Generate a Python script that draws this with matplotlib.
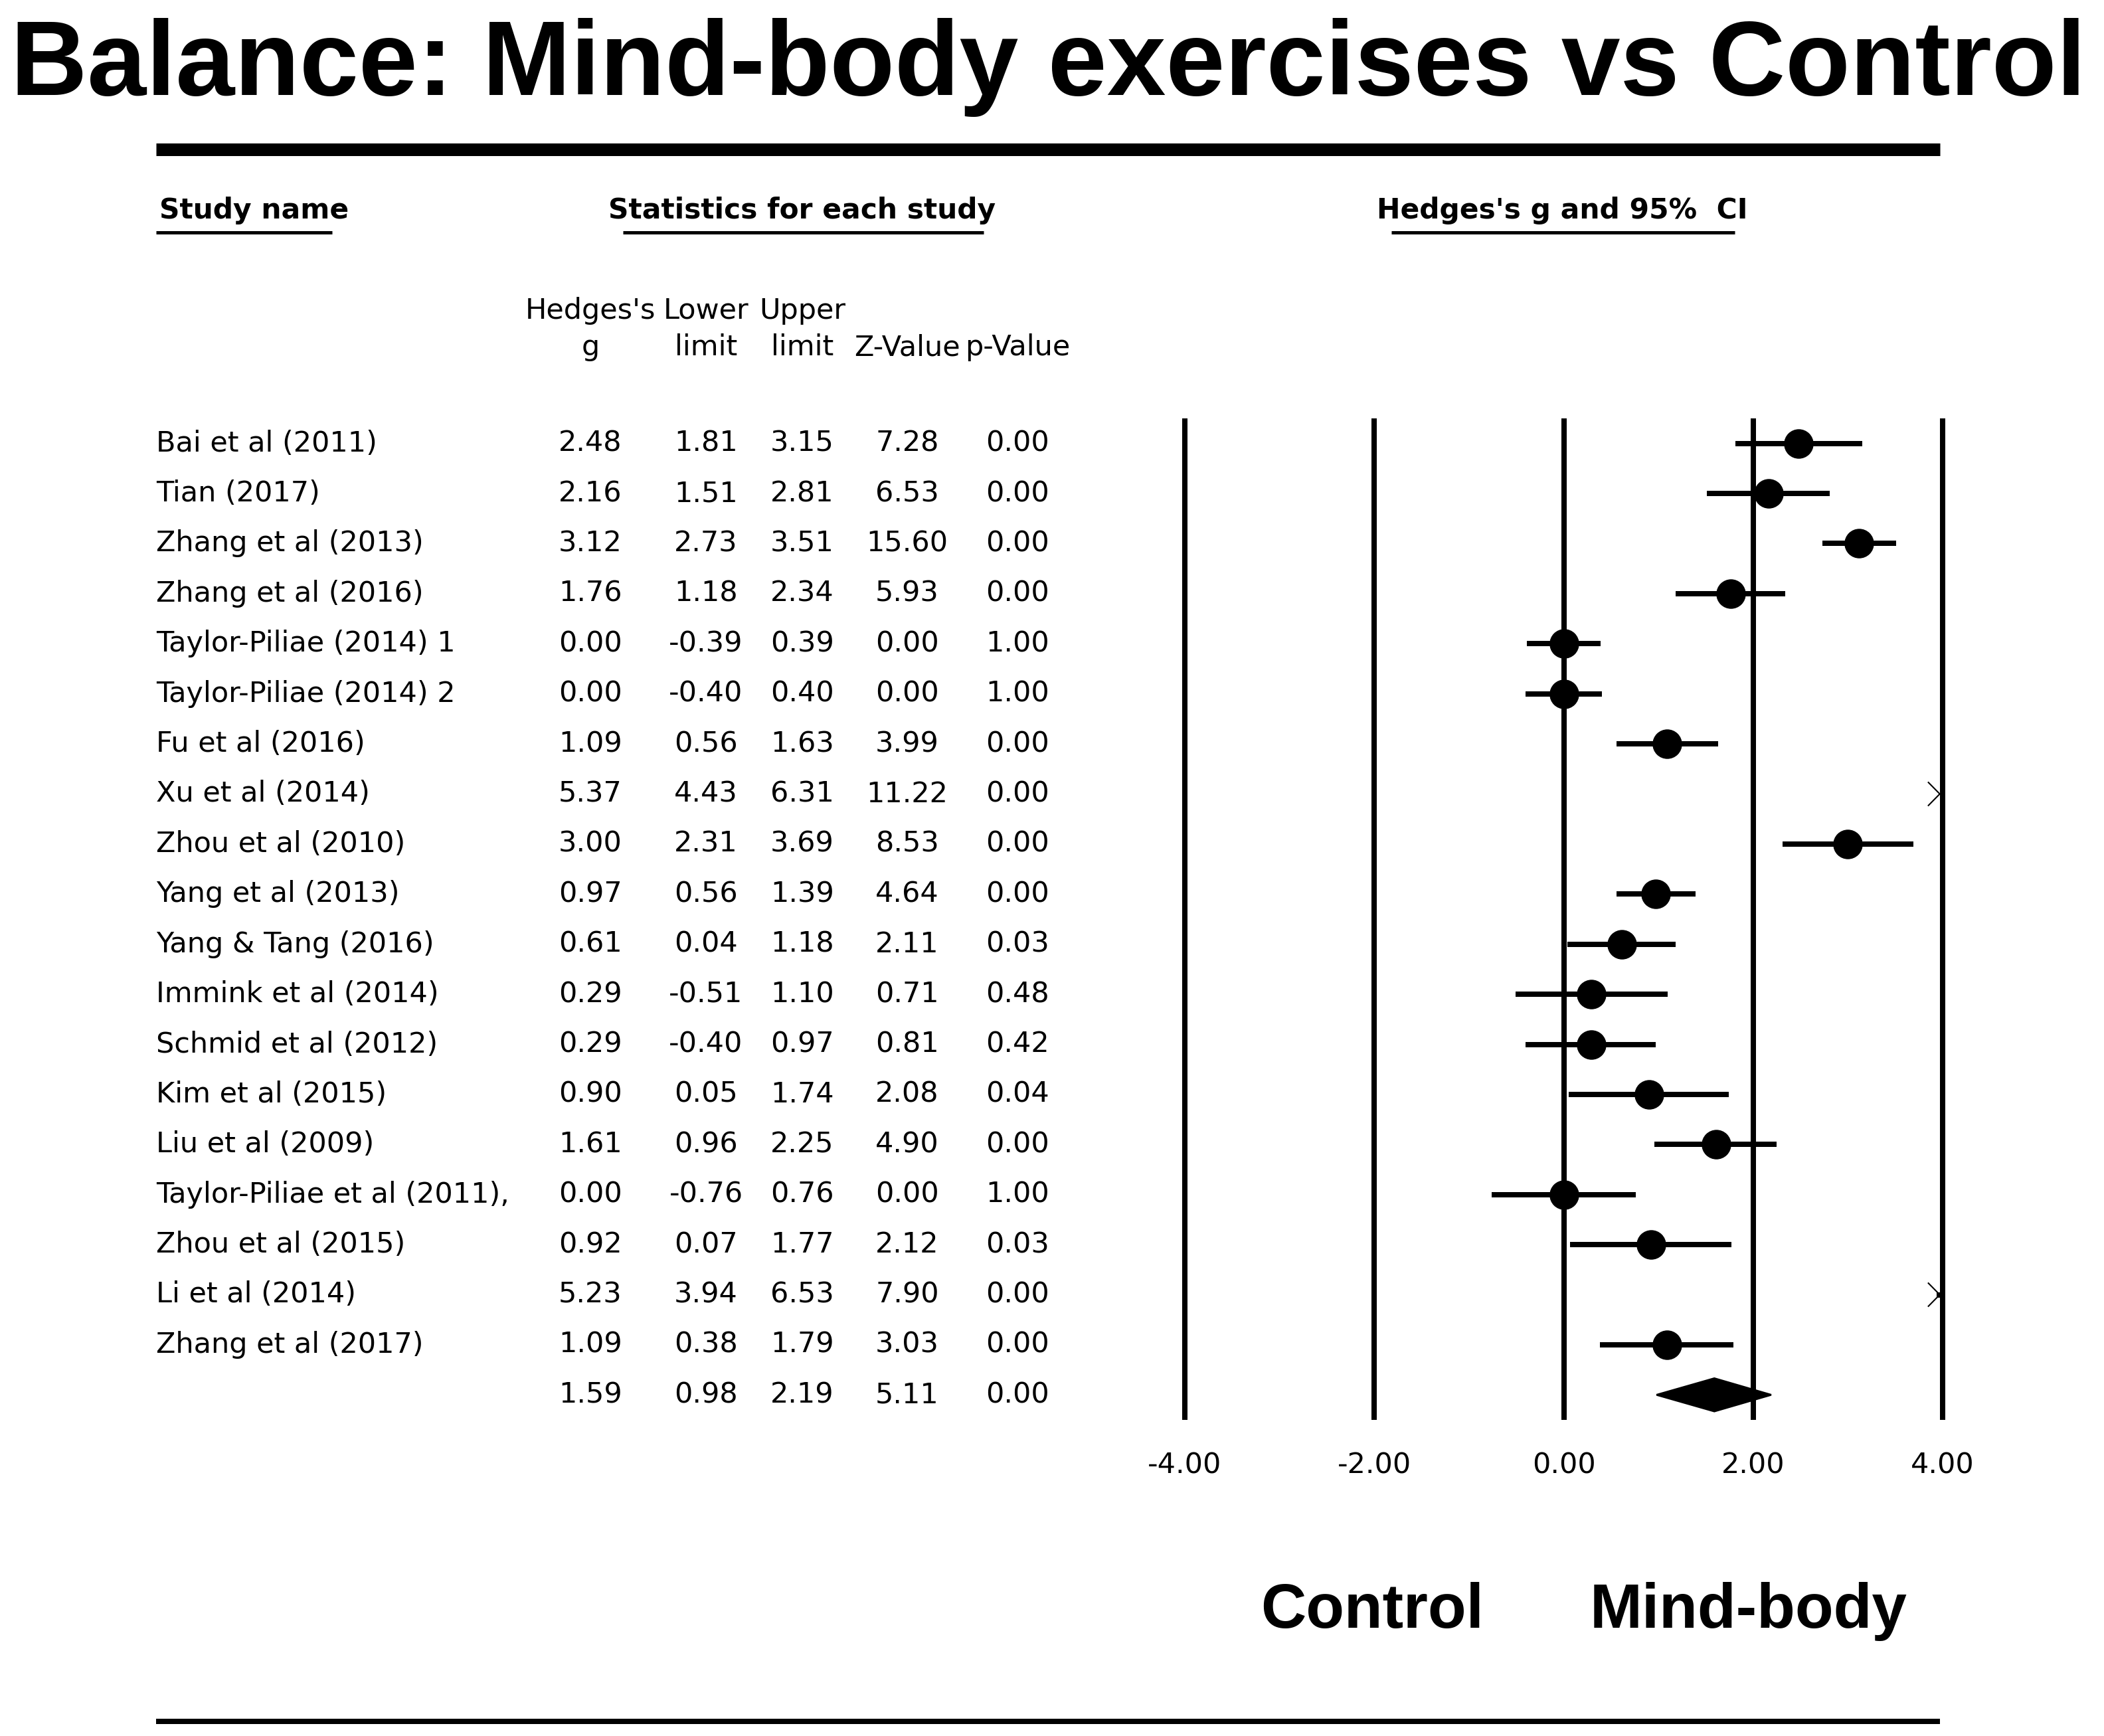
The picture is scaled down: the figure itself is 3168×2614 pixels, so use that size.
import numpy as np
import matplotlib
matplotlib.use("Agg")
import matplotlib.pyplot as plt
from matplotlib.lines import Line2D
from matplotlib.patches import Polygon
from matplotlib.transforms import blended_transform_factory

# Datos del forest plot
estudios = ["Bai et al (2011)", "Tian (2017)", "Zhang et al (2013)", "Zhang et al (2016)",
            "Taylor-Piliae (2014) 1", "Taylor-Piliae (2014) 2", "Fu et al (2016)",
            "Xu et al (2014)", "Zhou et al (2010)", "Yang et al (2013)", "Yang & Tang (2016)",
            "Immink et al (2014)", "Schmid et al (2012)", "Kim et al (2015)", "Liu et al (2009)",
            "Taylor-Piliae et al (2011),", "Zhou et al (2015)", "Li et al (2014)",
            "Zhang et al (2017)"]
hedges_g = [2.48, 2.16, 3.12, 1.76, 0.00, 0.00, 1.09, 5.37, 3.00, 0.97, 0.61, 0.29, 0.29,
            0.90, 1.61, 0.00, 0.92, 5.23, 1.09]
limite_inf = [1.81, 1.51, 2.73, 1.18, -0.39, -0.40, 0.56, 4.43, 2.31, 0.56, 0.04, -0.51, -0.40,
              0.05, 0.96, -0.76, 0.07, 3.94, 0.38]
limite_sup = [3.15, 2.81, 3.51, 2.34, 0.39, 0.40, 1.63, 6.31, 3.69, 1.39, 1.18, 1.10, 0.97,
              1.74, 2.25, 0.76, 1.77, 6.53, 1.79]
z_valor = [7.28, 6.53, 15.60, 5.93, 0.00, 0.00, 3.99, 11.22, 8.53, 4.64, 2.11, 0.71, 0.81,
           2.08, 4.90, 0.00, 2.12, 7.90, 3.03]
p_valor = [0.00, 0.00, 0.00, 0.00, 1.00, 1.00, 0.00, 0.00, 0.00, 0.00, 0.03, 0.48, 0.42,
           0.04, 0.00, 1.00, 0.03, 0.00, 0.00]
# Efecto combinado
resumen = [1.59, 0.98, 2.19, 5.11, 0.00]

ticks_x = [-4, -2, 0, 2, 4]

W, H = 3168, 2614
fig = plt.figure(figsize=(W / 100, H / 100), dpi=100)
fig.patch.set_facecolor("white")

def fx(px):
    return px / W

def fy(py):
    return 1 - py / H

def lw(px):
    return px * 0.72

# Ejes del forest plot: -4 en x=1784 px, 4 en x=2925 px
xmin, xmax = -4, 4
ppu = (2925 - 1784) / (xmax - xmin)
margen = 0.3
ax_x0 = 1784 - margen * ppu
ax_w = (xmax - xmin + 2 * margen) * ppu
n_filas = len(estudios) + 1
ax_top, ax_bot = 630, 2138
ax = fig.add_axes([fx(ax_x0), fy(ax_bot), ax_w / W, (ax_bot - ax_top) / H])
ax.set_xlim(xmin - margen, xmax + margen)
ax.set_ylim(n_filas - 0.5, -0.5)
for s in ax.spines.values():
    s.set_visible(False)
ax.set_yticks([])
ax.set_xticks(ticks_x)
ax.set_xticklabels([f"{v:.2f}" for v in ticks_x])
ax.tick_params(axis="x", length=0, pad=34, labelsize=31)

for v in ticks_x:
    ax.axvline(v, color="black", lw=lw(8), zorder=1)

filas = np.arange(len(estudios))
g = np.array(hedges_g)
lo = np.clip(limite_inf, xmin, xmax)
hi = np.clip(limite_sup, xmin, xmax)
ax.hlines(filas, lo, hi, color="black", lw=lw(8), zorder=2)
dentro = g <= xmax
ax.plot(g[dentro], filas[dentro], "o", ms=31, color="black", zorder=3)

# Flechas para estudios fuera del rango
for f in filas[~dentro]:
    ax.plot([xmax - 0.15, xmax - 0.03, xmax - 0.15], [f - 0.23, f, f + 0.23],
            color="black", lw=1.5, zorder=3)

# Diamante del efecto combinado
fr = len(estudios)
diamante = Polygon([[resumen[1], fr], [resumen[0], fr - 0.33],
                    [resumen[2], fr], [resumen[0], fr + 0.33]],
                   closed=True, facecolor="black", edgecolor="black", lw=2, zorder=3)
ax.add_patch(diamante)

# Tabla de estadísticos
trans = blended_transform_factory(fig.transFigure, ax.transData)
col_x = [889, 1063, 1208, 1366, 1532]
fs = 31
for i, nombre in enumerate(estudios):
    ax.text(fx(235), i, nombre, transform=trans, ha="left", va="center",
            fontsize=fs, clip_on=False)
    valores = [hedges_g[i], limite_inf[i], limite_sup[i], z_valor[i], p_valor[i]]
    for cx, v in zip(col_x, valores):
        ax.text(fx(cx), i, f"{v:.2f}", transform=trans, ha="center", va="center",
                fontsize=fs, clip_on=False)
for cx, v in zip(col_x, resumen):
    ax.text(fx(cx), fr, f"{v:.2f}", transform=trans, ha="center", va="center",
            fontsize=fs, clip_on=False)

# Encabezados de columnas
enc1 = ["Hedges's", "Lower", "Upper", "", ""]
enc2 = ["g", "limit", "limit", "Z-Value", "p-Value"]
for cx, a, b in zip(col_x, enc1, enc2):
    fig.text(fx(cx), fy(468), a, ha="center", va="center", fontsize=fs)
    fig.text(fx(cx), fy(523), b, ha="center", va="center", fontsize=fs)

# Títulos de sección con subrayado
fig.text(fx(240), fy(317), "Study name", ha="left", va="center", fontsize=30.5,
         fontweight="bold")
fig.text(fx(1208), fy(317), "Statistics for each study", ha="center", va="center",
         fontsize=30.5, fontweight="bold")
fig.text(fx(2352), fy(317), "Hedges's g and 95%  CI", ha="center", va="center",
         fontsize=30.5, fontweight="bold")
for x0, x1 in [(235, 500), (938, 1481), (2095, 2612)]:
    fig.add_artist(Line2D([fx(x0), fx(x1)], [fy(350), fy(350)], lw=lw(5),
                          color="black", transform=fig.transFigure,
                          solid_capstyle="butt"))

# Título principal y líneas horizontales
fig.text(fx(1578), fy(143), "Balance: Mind-body exercises vs Control", ha="center",
         va="baseline", fontsize=115, fontweight="bold", family="Liberation Sans")
fig.add_artist(Line2D([fx(235), fx(2921)], [fy(225), fy(225)], lw=lw(19), color="black",
                      transform=fig.transFigure, solid_capstyle="butt"))
fig.add_artist(Line2D([fx(235), fx(2921)], [fy(2592), fy(2592)], lw=lw(8), color="black",
                      transform=fig.transFigure, solid_capstyle="butt"))

# Etiquetas de dirección
fig.text(fx(2066), fy(2451), "Control", ha="center", va="baseline", fontsize=68,
         fontweight="bold", family="Liberation Sans")
fig.text(fx(2633), fy(2451), "Mind-body", ha="center", va="baseline", fontsize=68,
         fontweight="bold", family="Liberation Sans")

fig.savefig("out.png", dpi=100, facecolor="white")
